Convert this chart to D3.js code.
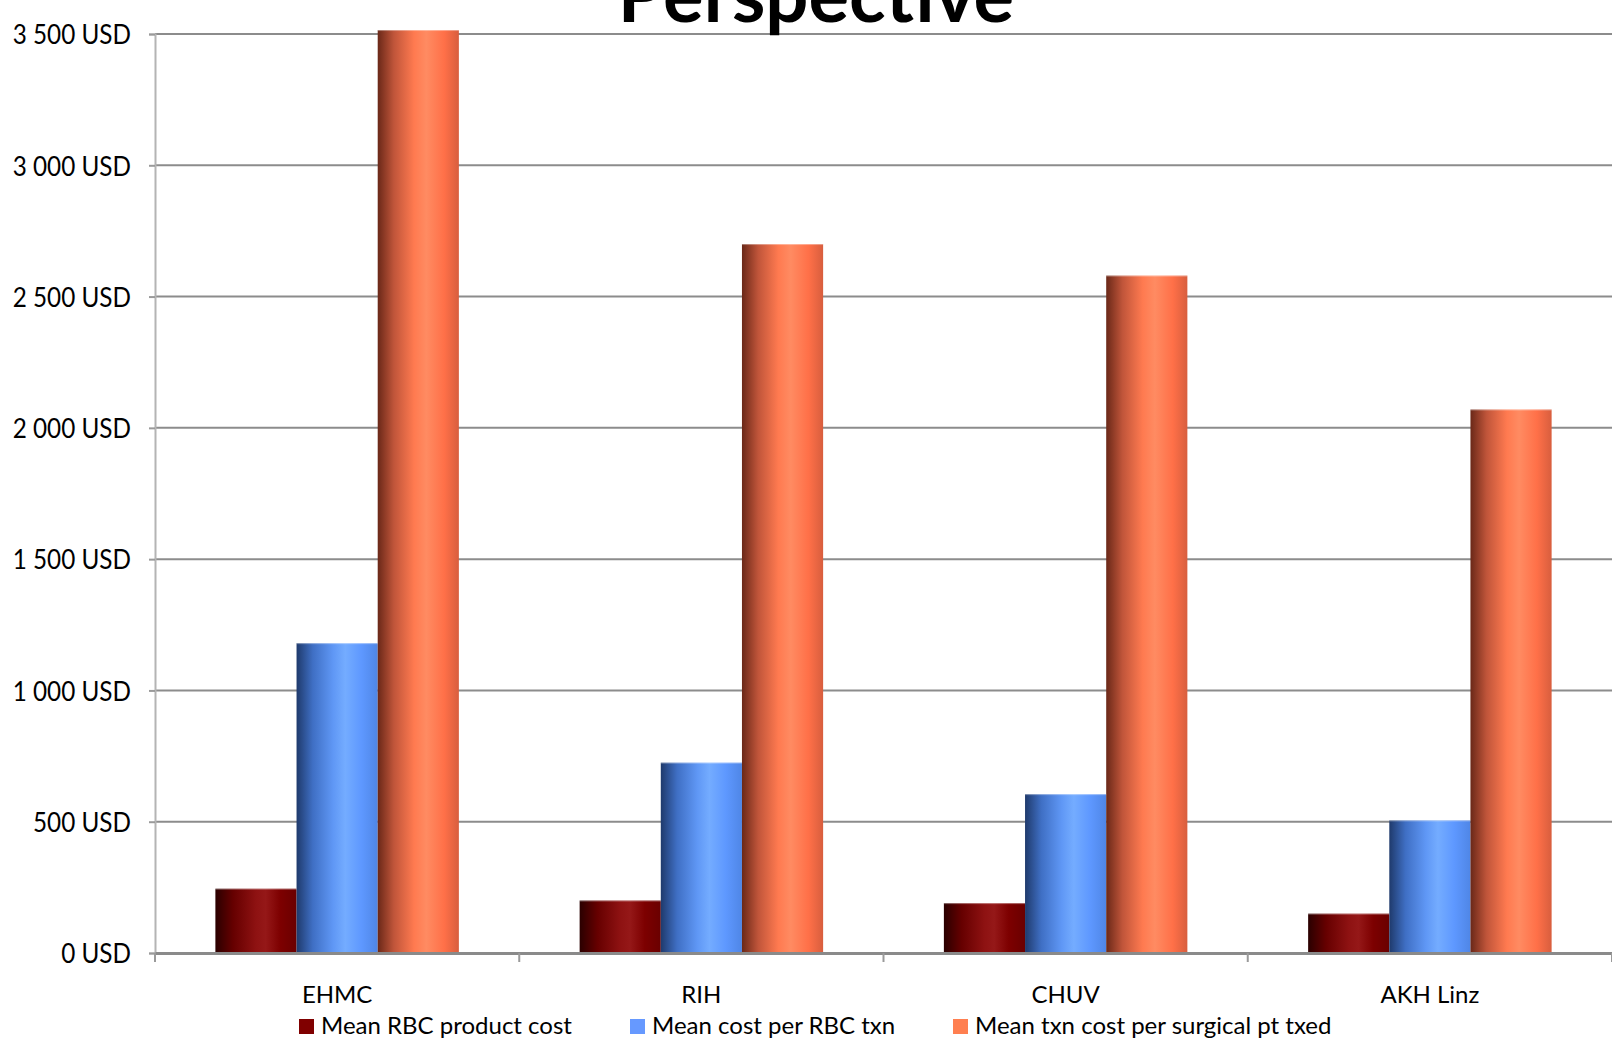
<!DOCTYPE html>
<html>
<head>
<meta charset="utf-8">
<script src="https://cdn.jsdelivr.net/npm/d3@7"></script>
<style>
  html, body { margin: 0; padding: 0; background: #fff; }
  svg { display: block; }
  text { font-family: Lato, "Open Sans", sans-serif; fill: #000; }
</style>
</head>
<body>
<svg id="chart" width="1612" height="1040"></svg>
<script>
// Hospitals compared
const categories = ["EHMC", "RIH", "CHUV", "AKH Linz"];
// Cost series (USD)
const seriesNames = ["Mean RBC product cost", "Mean cost per RBC txn", "Mean txn cost per surgical pt txed"];
const rbcProductCost = [245, 200, 190, 150];
const costPerRbcTxn = [1180, 725, 605, 505];
const txnCostPerSurgicalPt = [3515, 2700, 2580, 2070];
const yTicks = [0, 500, 1000, 1500, 2000, 2500, 3000, 3500];
const yTickLabels = ["0 USD", "500 USD", "1 000 USD", "1 500 USD", "2 000 USD", "2 500 USD", "3 000 USD", "3 500 USD"];
const titleText = "Perspective";

const seriesValues = [rbcProductCost, costPerRbcTxn, txnCostPerSurgicalPt];

const W = 1612, H = 1040;
const margin = { left: 155, right: 0, top: 34, bottom: 87 };
const svg = d3.select("#chart");

const x0 = d3.scaleBand().domain(categories).range([margin.left, W - margin.right]).paddingInner(0).paddingOuter(0);
const x1 = d3.scaleBand().domain(d3.range(seriesNames.length)).range([0, x0.bandwidth()]).paddingInner(0).paddingOuter(0.744);
const y = d3.scaleLinear().domain([0, 3500]).range([H - margin.bottom, margin.top]);

// Cylinder-like horizontal shading for each series
const gradStops = [
  [["0%", "#2a0000"], ["22%", "#660000"], ["50%", "#8e1212"], ["62%", "#951818"], ["80%", "#7d0000"], ["100%", "#6a0000"]],
  [["0%", "#1f3a6c"], ["20%", "#3f6fc4"], ["45%", "#5f97f5"], ["60%", "#74acff"], ["80%", "#5e98ff"], ["100%", "#4f86e6"]],
  [["0%", "#6a2818"], ["20%", "#c0553a"], ["45%", "#ff7a50"], ["60%", "#ff8b62"], ["82%", "#ff7048"], ["100%", "#d85e3e"]]
];
const legendColors = ["#800000", "#6699ff", "#ff7f50"];

const defs = svg.append("defs");
gradStops.forEach((stops, i) => {
  const g = defs.append("linearGradient").attr("id", "grad" + i)
    .attr("x1", "0%").attr("x2", "100%").attr("y1", "0%").attr("y2", "0%");
  stops.forEach(s => g.append("stop").attr("offset", s[0]).attr("stop-color", s[1]));
});

// Horizontal gridlines
svg.append("g").selectAll("line").data(yTicks.filter(d => d > 0)).join("line")
  .attr("x1", margin.left).attr("x2", W)
  .attr("y1", d => y(d)).attr("y2", d => y(d))
  .attr("stroke", "#8c8c8c").attr("stroke-width", 2);

// Y axis
const yAxis = d3.axisLeft(y).tickValues(yTicks).tickFormat((d, i) => yTickLabels[i]).tickSize(6).tickPadding(18);
const gy = svg.append("g").attr("transform", `translate(${margin.left},0)`).call(yAxis);
gy.select(".domain").attr("stroke", "#b4b4b4").attr("stroke-width", 2);
gy.selectAll(".tick line").attr("stroke", "#9a9a9a").attr("stroke-width", 2);
// slightly condensed tick labels
gy.selectAll(".tick text").attr("font-size", 27).attr("font-family", "Lato, sans-serif")
  .attr("fill", "#000").attr("dy", "0.36em")
  .attr("x", 0).attr("transform", "translate(-24,0) scale(0.9,1)");

// Bars
const groups = svg.append("g").selectAll("g").data(categories).join("g")
  .attr("transform", d => `translate(${x0(d)},0)`);
groups.selectAll("rect").data((c, ci) => seriesValues.map((vals, si) => ({ si, v: vals[ci] }))).join("rect")
  .attr("x", d => x1(d.si))
  .attr("width", x1.bandwidth())
  .attr("y", d => y(d.v))
  .attr("height", d => y(0) - y(d.v))
  .attr("fill", d => `url(#grad${d.si})`);
// light rim on bar tops
groups.selectAll("line.rim").data((c, ci) => seriesValues.map((vals, si) => ({ si, v: vals[ci] }))).join("line")
  .attr("class", "rim")
  .attr("x1", d => x1(d.si)).attr("x2", d => x1(d.si) + x1.bandwidth())
  .attr("y1", d => y(d.v) + 0.5).attr("y2", d => y(d.v) + 0.5)
  .attr("stroke", "#ffffff").attr("stroke-opacity", 0.35).attr("stroke-width", 1);

// X axis
const xAxis = d3.axisBottom(x0).tickSize(0).tickPadding(33);
const gx = svg.append("g").attr("transform", `translate(0,${y(0)})`).call(xAxis);
gx.select(".domain").attr("stroke", "#8a8a8a").attr("stroke-width", 3);
gx.selectAll(".tick text").attr("font-size", 24).attr("font-family", "Lato, sans-serif").attr("fill", "#000");
// category separators
const sepPos = categories.map(c => x0(c)).concat([x0(categories[categories.length - 1]) + x0.bandwidth()]);
svg.append("g").selectAll("line").data(sepPos).join("line")
  .attr("x1", d => d).attr("x2", d => d)
  .attr("y1", y(0)).attr("y2", y(0) + 9)
  .attr("stroke", "#9a9a9a").attr("stroke-width", 2);

// Title
svg.append("text").attr("x", 816).attr("y", 22).attr("text-anchor", "middle")
  .attr("font-size", 76).attr("font-weight", "bold").attr("font-family", "Lato, sans-serif")
  .text(titleText);

// Legend
const legendX = [299, 630, 953];
const legend = svg.append("g").selectAll("g").data(seriesNames).join("g")
  .attr("transform", (d, i) => `translate(${legendX[i]},1019)`);
legend.append("rect").attr("width", 15).attr("height", 15).attr("fill", (d, i) => legendColors[i]);
legend.append("text").attr("x", 22).attr("y", 15).attr("font-size", 24).attr("font-family", "Lato, sans-serif")
  .text(d => d);
</script>
</body>
</html>
